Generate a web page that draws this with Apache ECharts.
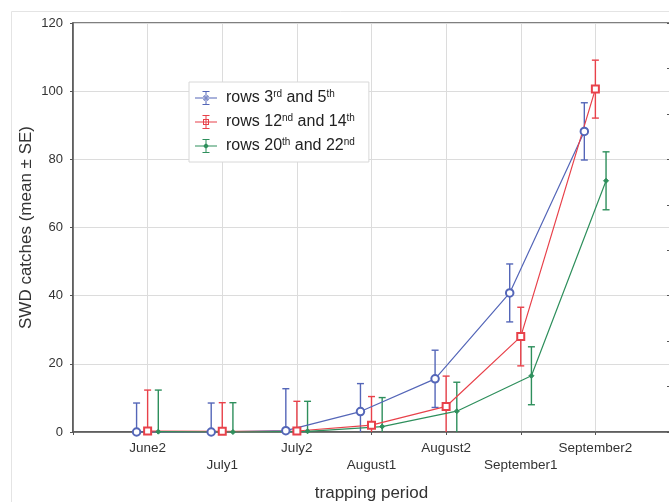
<!DOCTYPE html>
<html>
<head>
<meta charset="utf-8">
<script src="https://cdn.jsdelivr.net/npm/echarts@6/dist/echarts.min.js"></script>
<style>
html,body{margin:0;padding:0;background:#fff;}
#chart{width:669px;height:502px;}
</style>
</head>
<body>
<div id="chart"></div>
<script>
// ---- data ----
const categories = ['June2', 'July1', 'July2', 'August1', 'August2', 'September1', 'September2'];
const seriesNames = ['rows 3rd and 5th', 'rows 12nd and 14th', 'rows 20th and 22nd'];
const blueMean = [0, 0, 0.4, 6.0, 15.6, 40.8, 88.2];
const blueSE   = [8.5, 8.5, 12.3, 8.2, 8.4, 8.5, 8.4];
const redMean  = [0.3, 0.2, 0.3, 2.0, 7.5, 28.0, 100.6];
const redSE    = [12.0, 8.4, 8.7, 8.4, 8.9, 8.6, 8.5];
const greenMean = [0.1, 0, 0.2, 1.6, 6.1, 16.5, 73.7];
const greenSE   = [12.2, 8.6, 8.8, 8.5, 8.5, 8.5, 8.5];
const yTicks = [0, 20, 40, 60, 80, 100, 120];

// ---- styling ----
const FONT = 'Liberation Sans, Arial, sans-serif';
const colors = ['#5466b8', '#e8414a', '#2e8f5c'];
const offsets = [-0.148, 0, 0.143];
const symbols = ['emptyCircle', 'emptyRect', 'diamond'];
const symbolSizes = [7.5, 7, 5];
const means = [blueMean, redMean, greenMean];
const ses = [blueSE, redSE, greenSE];

const base = 'M0,6.5h22v1h-22z M10.5,0h1v14h-1z M7.5,0h7v1h-7z M7.5,13h7v1h-7z ';
const icons = [
  'path://' + base + 'M14,7A3,3 0 1,0 8,7A3,3 0 1,0 14,7Z M13,7A2,2 0 1,1 9,7A2,2 0 1,1 13,7Z',
  'path://' + base + 'M8,4h6v6h-6z M9,5v4h4v-4z',
  'path://' + base + 'M11,4L14,7L11,10L8,7z'
];

function errRender(color) {
  return function (params, api) {
    const x = api.value(0), lo = api.value(1), hi = api.value(2);
    const pHi = api.coord([x, hi]);
    const pLo = api.coord([x, Math.max(lo, 0)]);
    const cap = 3.5;
    const st = { stroke: color, lineWidth: 1.4 };
    const children = [
      { type: 'line', shape: { x1: pHi[0], y1: pHi[1], x2: pLo[0], y2: pLo[1] }, style: st },
      { type: 'line', shape: { x1: pHi[0] - cap, y1: pHi[1], x2: pHi[0] + cap, y2: pHi[1] }, style: st }
    ];
    if (lo >= 0) {
      children.push({ type: 'line', shape: { x1: pLo[0] - cap, y1: pLo[1], x2: pLo[0] + cap, y2: pLo[1] }, style: st });
    }
    return { type: 'group', children: children };
  };
}

const series = [];
for (let s = 0; s < 3; s++) {
  series.push({
    name: seriesNames[s],
    type: 'custom',
    renderItem: errRender(colors[s]),
    clip: true,
    data: means[s].map((m, i) => [i + 1 + offsets[s], m - ses[s][i], m + ses[s][i]]),
    z: 2
  });
  series.push({
    name: seriesNames[s],
    type: 'line',
    data: means[s].map((m, i) => [i + 1 + offsets[s], m]),
    symbol: symbols[s],
    symbolSize: symbolSizes[s],
    lineStyle: { color: colors[s], width: 1.2 },
    itemStyle: { color: colors[s], borderColor: colors[s], borderWidth: 1 },
    clip: true,
    z: 3
  });
}

const legendFmt = {
  'rows 3rd and 5th': 'rows 3{s|rd} and 5{s|th}',
  'rows 12nd and 14th': 'rows 12{s|nd} and 14{s|th}',
  'rows 20th and 22nd': 'rows 20{s|th} and 22{s|nd}'
};

const chart = echarts.init(document.getElementById('chart'));
chart.setOption({
  animation: false,
  backgroundColor: '#fff',
  textStyle: { fontFamily: FONT },
  grid: { left: 73, right: -1, top: 23, bottom: 70, outerBoundsMode: 'none', containLabel: false, show: true, borderColor: '#555', borderWidth: 1.5, backgroundColor: 'transparent' },
  graphic: [
    { type: 'line', shape: { x1: 11.5, y1: 11.5, x2: 11.5, y2: 502 }, style: { stroke: '#e4e4e4', lineWidth: 1 }, silent: true },
    { type: 'line', shape: { x1: 11.5, y1: 11.5, x2: 669, y2: 11.5 }, style: { stroke: '#e4e4e4', lineWidth: 1 }, silent: true }
  ],
  legend: {
    orient: 'vertical',
    left: 189,
    top: 82,
    padding: [7, 14, 7, 6],
    itemGap: 6,
    itemWidth: 22,
    itemHeight: 14,
    backgroundColor: '#fff',
    borderColor: '#d8d8d8',
    borderWidth: 1,
    data: seriesNames.map((n, i) => ({ name: n, icon: icons[i], itemStyle: { color: colors[i] } })),
    formatter: n => legendFmt[n],
    textStyle: {
      fontFamily: FONT, fontSize: 16, color: '#222', padding: [0, 0, 0, 4], lineHeight: 18,
      rich: { s: { fontFamily: FONT, fontSize: 10, color: '#222', padding: [0, 0, 8, 0] } }
    },
    selectedMode: false
  },
  xAxis: {
    type: 'value',
    min: 0, max: 8, interval: 1,
    name: 'trapping period',
    nameLocation: 'middle',
    nameGap: 53,
    nameTextStyle: { fontFamily: FONT, fontSize: 17, color: '#333' },
    axisLine: { show: true, lineStyle: { color: '#555', width: 1.5 } },
    axisTick: { show: true, length: 3, lineStyle: { color: '#555' } },
    splitLine: { show: true, lineStyle: { color: '#dcdcdc', width: 1 } },
    axisLabel: {
      fontFamily: FONT, fontSize: 13.5, color: '#333', margin: 8, lineHeight: 17,
      formatter: v => {
        const i = Math.round(v) - 1;
        if (i < 0 || i >= categories.length) return '';
        return i % 2 === 0 ? categories[i] : '\n' + categories[i];
      }
    }
  },
  yAxis: [{
    type: 'value',
    min: yTicks[0], max: yTicks[yTicks.length - 1], interval: yTicks[1] - yTicks[0],
    name: 'SWD catches (mean \u00b1 SE)',
    nameLocation: 'middle',
    nameGap: 38,
    nameMoveOverlap: false,
    nameTextStyle: { fontFamily: FONT, fontSize: 17, color: '#333' },
    axisLine: { show: true, lineStyle: { color: '#555', width: 1.5 } },
    axisTick: { show: true, length: 3, lineStyle: { color: '#555' } },
    splitLine: { show: true, lineStyle: { color: '#dcdcdc', width: 1 } },
    axisLabel: { fontFamily: FONT, fontSize: 13, color: '#333', margin: 10 }
  }, {
    type: 'value',
    position: 'right',
    min: 0, max: 9, interval: 1,
    axisLine: { show: false },
    axisTick: { show: true, inside: true, length: 3, lineStyle: { color: '#555' } },
    axisLabel: { show: false },
    splitLine: { show: false }
  }],
  series: series
});
</script>
</body>
</html>
